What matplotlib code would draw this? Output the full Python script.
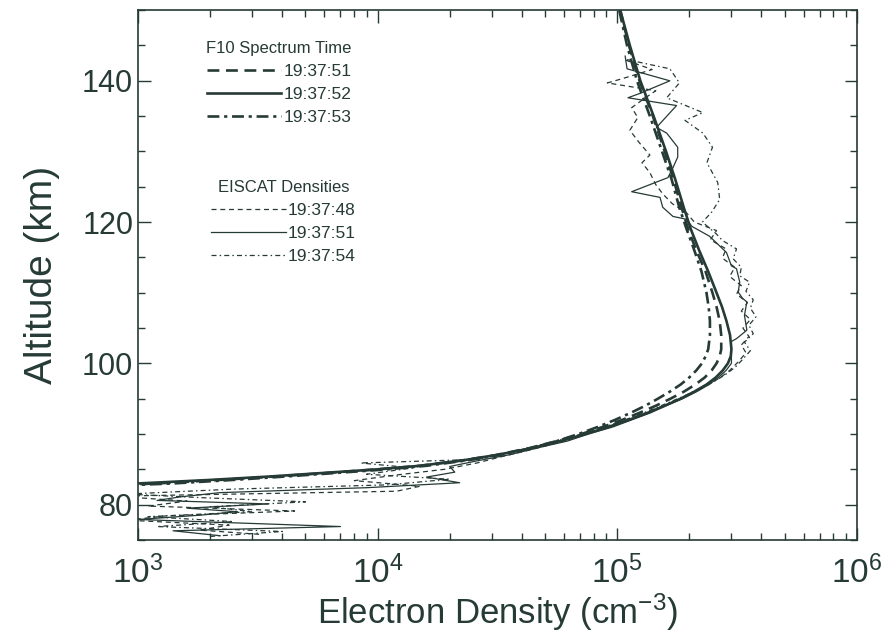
import numpy as np
import matplotlib as mpl
mpl.use('Agg')
mpl.rcParams['font.family'] = 'Liberation Sans'
mpl.rcParams['mathtext.fontset'] = 'custom'
mpl.rcParams['mathtext.rm'] = 'Liberation Sans'
mpl.rcParams['mathtext.it'] = 'Liberation Sans:italic'
mpl.rcParams['font.size'] = 22
import matplotlib.pyplot as plt
from matplotlib.ticker import LogLocator, MultipleLocator, LogFormatterMathtext, NullFormatter

"""
F10 model electron density profiles compared with EISCAT densities.
"""

ink = '#263a36'

# F10 spectrum model profiles (altitude in km, density in cm^-3)
alt_f10 = [82.6, 83.0, 83.5, 84.0, 84.5, 85.0, 85.5, 86.3, 87.0, 88.0,
           89.0, 90.0, 91.0, 92.0, 93.0, 94.0, 95.0, 96.0, 97.0, 98.0,
           99.0, 100.0, 101.0, 102.0, 104.0, 106.0, 108.0, 110.0, 113.0, 116.0,
           119.0, 122.0, 126.0, 130.0, 135.0, 140.0, 145.0, 150.0]
n_f10_51 = [6e2, 1.2e3, 2.2e3, 3.8e3, 6.2e3, 1.0e4, 1.5e4, 2.3e4, 3.1e4, 4.3e4,
            5.6e4, 7.1e4, 8.7e4, 1.05e5, 1.24e5, 1.45e5, 1.67e5, 1.9e5, 2.12e5, 2.32e5,
            2.48e5, 2.6e5, 2.68e5, 2.72e5, 2.72e5, 2.68e5, 2.6e5, 2.5e5, 2.34e5, 2.14e5,
            1.98e5, 1.86e5, 1.72e5, 1.58e5, 1.41e5, 1.24e5, 1.12e5, 1.03e5]
n_f10_52 = [5e2, 1.0e3, 2.0e3, 3.6e3, 6.0e3, 1.0e4, 1.5e4, 2.3e4, 3.1e4, 4.4e4,
            5.8e4, 7.4e4, 9.2e4, 1.12e5, 1.34e5, 1.58e5, 1.84e5, 2.1e5, 2.36e5, 2.58e5,
            2.76e5, 2.9e5, 2.98e5, 3.0e5, 2.96e5, 2.86e5, 2.74e5, 2.6e5, 2.4e5, 2.2e5,
            2.03e5, 1.9e5, 1.75e5, 1.6e5, 1.42e5, 1.25e5, 1.13e5, 1.03e5]
n_f10_53 = [7e2, 1.4e3, 2.5e3, 4.2e3, 6.8e3, 1.1e4, 1.6e4, 2.4e4, 3.2e4, 4.4e4,
            5.6e4, 6.9e4, 8.3e4, 9.8e4, 1.14e5, 1.31e5, 1.48e5, 1.66e5, 1.84e5, 2.0e5,
            2.14e5, 2.26e5, 2.34e5, 2.4e5, 2.44e5, 2.44e5, 2.41e5, 2.36e5, 2.25e5, 2.1e5,
            1.95e5, 1.82e5, 1.69e5, 1.54e5, 1.37e5, 1.21e5, 1.1e5, 1.02e5]

# EISCAT densities 19:37:48
alt_e48 = [75.8, 76.4, 77.1, 77.8, 78.4, 79.1, 79.8, 80.5, 81.2, 81.9,
           82.6, 83.4, 84.2, 85.0, 85.9, 86.8, 87.8, 89.0, 90.0, 91.0,
           92.0, 93.0, 94.0, 95.0, 96.0, 97.0, 98.0, 99.0, 100.2, 101.5,
           102.6, 103.8, 105.0, 106.2, 107.4, 108.6, 109.8, 111.0, 112.3, 113.6,
           114.9, 116.2, 117.5, 118.8, 120.0, 121.3, 122.6, 124.0, 125.3, 127.0,
           128.4, 129.5, 131.2, 133.0, 134.8, 136.2, 137.5, 138.6, 139.7, 140.3,
           141.6, 143.0]
n_e48 = [3.2e3, 1.8e3, 2.4e3, 9e2, 1.3e3, 4.5e3, 1.1e3, 1.6e3, 8e2, 1.2e4,
         1.5e4, 8e3, 1.2e4, 1.9e4, 2.6e4, 3.3e4, 4.4e4, 6.0e4, 7.4e4, 9.2e4,
         1.1e5, 1.32e5, 1.56e5, 1.85e5, 2.12e5, 2.4e5, 2.7e5, 2.95e5, 3.2e5, 3.45e5,
         3.3e5, 3.55e5, 3.35e5, 3.6e5, 3.3e5, 3.5e5, 3.15e5, 3.3e5, 2.95e5, 3.1e5,
         2.75e5, 2.85e5, 2.45e5, 2.6e5, 2.1e5, 1.95e5, 1.7e5, 1.55e5, 1.45e5, 1.37e5,
         1.27e5, 1.37e5, 1.24e5, 1.13e5, 1.22e5, 1.15e5, 1.3e5, 1.45e5, 9.1e4, 1.05e5,
         1.4e5, 1.07e5]

# EISCAT densities 19:37:51
alt_e51 = [75.6, 76.3, 76.9, 77.9, 78.5, 79.0, 79.5, 80.1, 80.6, 81.1,
           81.7, 82.4, 83.1, 83.9, 84.6, 85.4, 86.2, 87.1, 88.0, 89.0,
           90.0, 91.0, 92.0, 93.0, 94.0, 95.0, 96.0, 97.0, 98.0, 99.0,
           100.0, 101.5, 103.1, 103.5, 104.7, 106.8, 108.7, 109.2, 110.1, 111.5,
           113.4, 113.8, 115.7, 118.0, 119.4, 120.4, 120.8, 122.1, 123.5, 124.3,
           126.3, 127.7, 129.2, 130.6, 132.6, 133.4, 136.5, 137.6, 138.2, 140.0,
           141.7, 143.5]
n_e51 = [2.2e3, 1.4e3, 7.0e3, 1.0e3, 1.8e3, 2.6e3, 1.6e3, 3.5e3, 1.2e3, 1.5e3,
         2.2e3, 9.0e3, 2.2e4, 1.6e4, 2.1e4, 2.0e4, 2.6e4, 3.6e4, 4.6e4, 6.2e4,
         7.6e4, 9.6e4, 1.15e5, 1.38e5, 1.6e5, 1.88e5, 2.15e5, 2.42e5, 2.65e5, 2.85e5,
         3.0e5, 3.0e5, 3.0e5, 3.15e5, 3.48e5, 3.4e5, 3.48e5, 3.34e5, 3.2e5, 3.25e5,
         3.15e5, 3.0e5, 2.86e5, 2.43e5, 2.05e5, 1.95e5, 1.71e5, 1.55e5, 1.51e5, 1.15e5,
         1.63e5, 1.71e5, 1.79e5, 1.79e5, 1.61e5, 1.46e5, 1.77e5, 1.11e5, 1.24e5, 1.66e5,
         1.1e5, 1.08e5]

# EISCAT densities 19:37:54
alt_e54 = [75.5, 76.2, 76.9, 77.6, 78.3, 79.0, 79.7, 80.4, 81.0, 81.5,
           82.2, 82.8, 83.6, 84.3, 85.2, 85.9, 86.4, 87.3, 88.3, 89.3,
           90.3, 91.3, 92.3, 93.3, 94.3, 95.3, 96.3, 97.3, 98.3, 99.4,
           100.6, 101.8, 103.0, 104.2, 105.4, 106.6, 107.8, 109.0, 110.2, 111.5,
           112.4, 113.6, 114.8, 116.2, 117.4, 118.3, 120.0, 121.4, 123.2, 125.6,
           128.4, 130.6, 132.6, 134.4, 135.5, 137.6, 139.7, 141.7, 143.0]
n_e54 = [2.0e3, 4.0e3, 1.2e3, 2.5e3, 1.1e3, 3.0e3, 2.0e3, 5.0e3, 1.8e3, 9.0e2,
         2.5e3, 1.1e4, 2.0e4, 9.0e3, 1.4e4, 8.5e3, 2.6e4, 3.5e4, 4.6e4, 6.0e4,
         7.6e4, 9.4e4, 1.14e5, 1.36e5, 1.6e5, 1.88e5, 2.18e5, 2.5e5, 2.8e5, 3.1e5,
         3.35e5, 3.6e5, 3.4e5, 3.7e5, 3.55e5, 3.8e5, 3.6e5, 3.7e5, 3.45e5, 3.57e5,
         3.25e5, 3.3e5, 3.05e5, 3.15e5, 2.75e5, 2.6e5, 2.27e5, 2.48e5, 2.68e5, 2.63e5,
         2.37e5, 2.5e5, 2.28e5, 1.92e5, 2.28e5, 1.61e5, 1.82e5, 1.66e5, 1.1e5]

f10_labels = ['19:37:51', '19:37:52', '19:37:53']
eiscat_labels = ['19:37:48', '19:37:51', '19:37:54']


def plot_profiles():

    fig = plt.figure(figsize=(8.85, 6.36), dpi=100)
    ax = fig.add_axes([0.156, 0.151, 0.812, 0.833])

    thick = 1.9
    thin = 0.9
    model_styles = [(0, (4.5, 2.5)), '-', (0, (4.5, 1.8, 1.2, 1.8))]
    data_styles = [(0, (4, 3)), '-', (0, (4, 2.5, 1.2, 2.5))]

    f10 = [n_f10_51, n_f10_52, n_f10_53]
    h1 = []
    for n, ls, lab in zip(f10, model_styles, f10_labels):
        l, = ax.plot(n, alt_f10, color=ink, lw=thick, ls=ls, label=lab)
        h1.append(l)

    eis = [(n_e48, alt_e48), (n_e51, alt_e51), (n_e54, alt_e54)]
    h2 = []
    for (n, a), ls, lab in zip(eis, data_styles, eiscat_labels):
        l, = ax.plot(n, a, color=ink, lw=thin, ls=ls, label=lab)
        h2.append(l)

    ax.set_xscale('log')
    ax.set_xlim(1e3, 1e6)
    ax.set_ylim(75, 150)

    ax.yaxis.set_major_locator(MultipleLocator(20))
    ax.yaxis.set_minor_locator(MultipleLocator(5))
    ax.xaxis.set_major_locator(LogLocator(base=10))
    ax.xaxis.set_minor_locator(LogLocator(base=10, subs=np.arange(2, 10)))
    ax.xaxis.set_major_formatter(LogFormatterMathtext())
    ax.xaxis.set_minor_formatter(NullFormatter())

    ax.tick_params('both', which='major', direction='in', length=9, width=1,
                   top=True, right=True, color=ink, labelcolor=ink, labelsize=22)
    ax.tick_params('both', which='minor', direction='in', length=5, width=1,
                   top=True, right=True, color=ink)
    ax.tick_params('x', which='major', pad=11, labelsize=24)
    for s in ax.spines.values():
        s.set_color(ink)
        s.set_linewidth(1.2)

    ax.set_xlabel(r'Electron Density (cm$^{-3}$)', color=ink, fontsize=25, labelpad=1)
    ax.set_ylabel('Altitude (km)', color=ink, fontsize=28, labelpad=16)

    kw = dict(loc='upper left', frameon=False, fontsize=12.5, title_fontsize=12,
              handlelength=4.3, handletextpad=0.1, labelspacing=0.45,
              borderpad=0, borderaxespad=0)
    leg1 = ax.legend(handles=h1, title='F10 Spectrum Time',
                     bbox_to_anchor=(0.095, 0.942), **kw)
    ax.add_artist(leg1)
    leg2 = ax.legend(handles=h2, title='EISCAT Densities',
                     bbox_to_anchor=(0.102, 0.68), **kw)
    for lg in (leg1, leg2):
        lg.get_title().set_color(ink)
        for t in lg.get_texts():
            t.set_color(ink)

    plt.savefig('out.png', dpi=100)

    return


plot_profiles()
